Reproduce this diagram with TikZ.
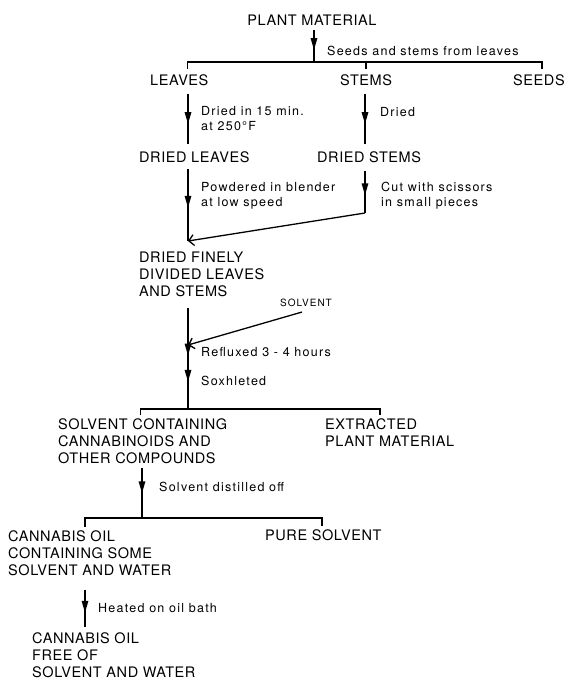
\documentclass[tikz,border=0pt]{standalone}
\usepackage{fontspec}
\setmainfont{TeX Gyre Heros}
\newfontfamily\capsfont[LetterSpace=4]{TeX Gyre Heros}
\newfontfamily\notefont[LetterSpace=10]{TeX Gyre Heros}
\usetikzlibrary{arrows.meta,decorations.markings,calc}

\begin{document}
\begin{tikzpicture}
    [x=1pt, y=-1pt,
     stage/.style={inner sep=0pt, anchor=west, align=left, font=\capsfont\fontsize{14.5}{17}\selectfont},
     stages/.style={stage, anchor=north west},
     note/.style={inner sep=0pt, anchor=west, align=left, font=\notefont\fontsize{12.5}{15}\selectfont},
     notes/.style={note, anchor=north west},
     flow/.style={line width=1.5pt, postaction={decorate}, decoration={markings,
        mark=at position #1 with {\arrow{Triangle[length=12pt,width=6.5pt]}}}},
     twoflow/.style 2 args={line width=1.5pt, postaction={decorate}, decoration={markings,
        mark=at position #1 with {\arrow{Triangle[length=12pt,width=6.5pt]}},
        mark=at position #2 with {\arrow{Triangle[length=12pt,width=6.5pt]}}}},
     feed/.style={line width=1.3pt, -{Straight Barb[length=5pt,width=11pt]}},
     bar/.style={line width=1.4pt}]
    \useasboundingbox (0,0) rectangle (568,681);

    \node[stage, anchor=center] (plant) at (312,20) {PLANT MATERIAL};
    \node[stage] (leaves) at (150,80) {LEAVES};
    \node[stage] (stems) at (340,80) {STEMS};
    \node[stage] (seeds) at (513,80) {SEEDS};
    \node[stage] (dleaves) at (139,157) {DRIED LEAVES};
    \node[stage] (dstems) at (317,157) {DRIED STEMS};
    \node[stages] (fine) at (139,252) {DRIED FINELY\\DIVIDED LEAVES\\AND STEMS};
    \node[stage, font=\notefont\fontsize{10}{12}\selectfont] (solvent) at (280,303) {SOLVENT};
    \node[stages] (mix) at (58,418) {SOLVENT CONTAINING\\CANNABINOIDS AND\\OTHER COMPOUNDS};
    \node[stages] (spent) at (325,418) {EXTRACTED\\PLANT MATERIAL};
    \node[stages] (oil) at (8,530) {CANNABIS OIL\\CONTAINING SOME\\SOLVENT AND WATER};
    \node[stage] (pure) at (265,535) {PURE SOLVENT};
    \node[stages] (final) at (32,632) {CANNABIS OIL\\FREE OF\\SOLVENT AND WATER};

    \node[note] (sorted) at (327,51) {Seeds and stems from leaves};
    \node[notes] (oven) at (201,106) {Dried in 15 min.\\at 250°F};
    \node[note] (dried) at (380,112) {Dried};
    \node[notes] (blender) at (201,182) {Powdered in blender\\at low speed};
    \node[notes] (scissors) at (381,182) {Cut with scissors\\in small pieces};
    \node[note] (reflux) at (201,352) {Refluxed 3 - 4 hours};
    \node[note] (soxhlet) at (201,381) {Soxhleted};
    \node[note] (distil) at (159,487) {Solvent distilled off};
    \node[note] (bath) at (98,608) {Heated on oil bath};

    \coordinate (split1) at (314,62);
    \coordinate (join1) at (188,241);
    \coordinate (bend) at (365,213);
    \coordinate (join2) at (188,345);
    \coordinate (split2) at (188,409);
    \coordinate (split3) at (142,518);

    \draw[flow=0.62] ($(plant.south -| split1)+(0,5)$) -- (split1);
    \draw[bar] (split1) -| ($(leaves.north)+(8,-5)$);
    \draw[bar] (split1) -| ($(seeds.north)+(3,-5)$);
    \draw[bar] (stems.north |- split1) -- ($(stems.north)+(0,-5)$);

    \draw[flow=0.6] ($(leaves.south -| join1)+(0,8)$) -- ($(dleaves.north -| join1)+(0,-7)$);
    \draw[flow=0.6] ($(stems.south -| bend)+(0,8)$) -- ($(dstems.north -| bend)+(0,-7)$);
    \draw[flow=0.54] ($(dleaves.south -| join1)+(0,6)$) -- (join1);
    \draw[flow=0.58] ($(dstems.south -| bend)+(0,8)$) -- (bend);
    \draw[feed] (bend) -- (join1);

    \draw[twoflow={0.47}{0.73}] ($(fine.south -| join2)+(0,11)$) -- (split2);
    \draw[feed] ($(solvent.south)+(-4,5)$) -- (join2);
    \draw[bar] (split2) -| ($(mix.north)+(-2,-3)$);
    \draw[bar] (split2) -| ($(spent.north west)+(55,-3)$);

    \draw[flow=0.5] ($(mix.south -| split3)+(0,5)$) -- (split3);
    \draw[bar] (split3) -| ($(oil.north west)+(77,-3)$);
    \draw[bar] (split3) -| ($(pure.north)+(-1.5,-3)$);
    \draw[flow=0.62] ($(oil.south west)+(77,14)$) -- ($(final.north west)+(53,-5)$);
\end{tikzpicture}
\end{document}
